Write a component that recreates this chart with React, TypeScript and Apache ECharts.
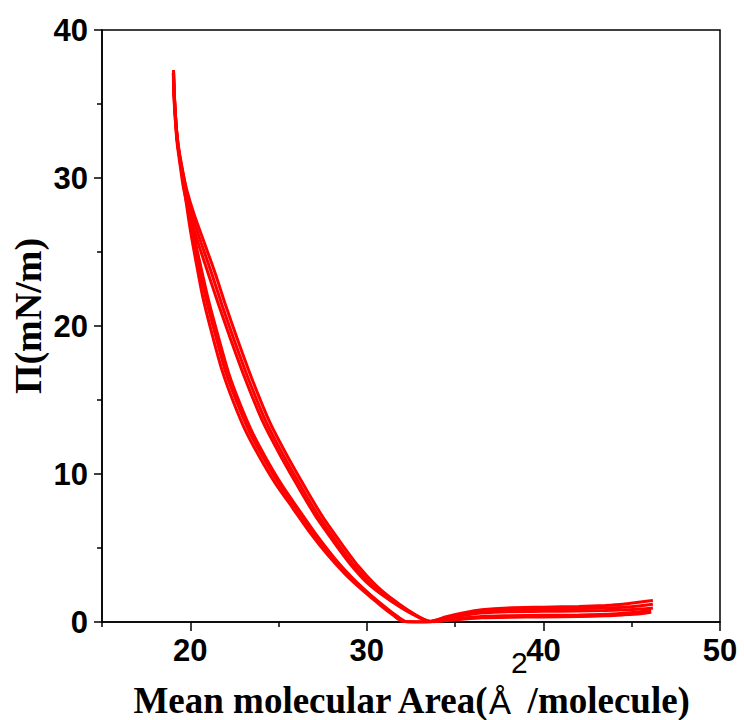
import React, { useEffect, useRef } from "react";
import * as echarts from "echarts";

// Axis ticks
const xMajorTicks = [20, 30, 40, 50];
const xMinorTicks = [15, 25, 35, 45];
const yMin = 0;
const yMax = 40;
const yInterval = 10;

// Cycle 1 compression (area Å²/molecule, Π mN/m)
const compression1: [number, number][] = [
  [46.2, 1.45], [45.5, 1.35], [44.5, 1.2], [43.5, 1.12], [42, 1.05], [40, 1.0], [38, 0.95],
  [36.5, 0.82], [35.5, 0.62], [34.5, 0.35], [33.6, 0.05],
  [32.6, 0.6], [31.5, 1.5], [30.5, 2.5], [29.5, 3.8], [28.5, 5.4], [27.5, 7.1], [26.5, 9.1],
  [25.5, 11.2], [24.5, 13.5], [23.5, 16.4], [22.7, 19.0], [22.0, 21.4], [21.4, 23.6],
  [20.8, 25.6], [20.2, 27.6], [19.8, 29.2], [19.5, 30.8], [19.3, 32.2], [19.2, 33.5],
  [19.1, 35.5], [19.05, 37.3],
];
// Cycle 1 expansion
const expansion1: [number, number][] = [
  [19.05, 37.3], [19.1, 35.5], [19.2, 33.5], [19.3, 32.2], [19.5, 30.6], [19.75, 28.5],
  [20.0, 26.5], [20.3, 24.5], [20.7, 22.0], [21.2, 19.6], [21.8, 17.0], [22.4, 15.0],
  [23.1, 13.0], [23.9, 11.2], [24.8, 9.4], [25.8, 7.7], [26.8, 6.0], [27.8, 4.5],
  [28.8, 3.2], [29.8, 2.1], [30.8, 1.1], [31.5, 0.45], [32.0, 0.05], [33.0, 0.0],
  [33.6, 0.02], [34.5, 0.15], [35.5, 0.28], [36.5, 0.38], [38, 0.42], [40, 0.45],
  [42, 0.48], [43.5, 0.52], [44.5, 0.6], [45.5, 0.7], [46.1, 0.82],
];
// Cycle 2 compression
const compression2: [number, number][] = [
  [46.2, 1.2], [45.5, 1.1], [44.5, 1.0], [43.5, 0.95], [42, 0.9], [40, 0.86], [38, 0.82],
  [36.5, 0.72], [35.5, 0.52], [34.5, 0.3], [33.6, 0.04],
  [32.5, 0.62], [31.35, 1.5], [30.3, 2.5], [29.3, 3.8], [28.3, 5.4], [27.3, 7.1], [26.3, 9.1],
  [25.3, 11.2], [24.3, 13.5], [23.3, 16.4], [22.5, 19.0], [21.8, 21.4], [21.2, 23.6],
  [20.62, 25.6], [20.07, 27.6], [19.7, 29.3], [19.46, 30.9], [19.28, 32.3], [19.18, 33.6],
  [19.08, 35.6], [19.05, 37.2],
];
// Cycle 2 expansion
const expansion2: [number, number][] = [
  [19.05, 37.2], [19.1, 35.5], [19.2, 33.5], [19.33, 32.0], [19.54, 30.5], [19.83, 28.4],
  [20.1, 26.4], [20.44, 24.3], [20.88, 21.9], [21.4, 19.5], [22.0, 16.9], [22.62, 14.9],
  [23.33, 12.9], [24.14, 11.1], [25.04, 9.3], [26.04, 7.6], [27.02, 5.9], [28.0, 4.4],
  [29.0, 3.1], [30.0, 2.0], [30.98, 1.0], [31.66, 0.4], [32.15, 0.03], [33.0, 0.0],
  [33.6, 0.02], [34.5, 0.12], [35.5, 0.24], [36.5, 0.32], [38, 0.36], [40, 0.38],
  [42, 0.42], [43.5, 0.46], [44.5, 0.52], [45.5, 0.62], [46.1, 0.72],
];
// Cycle 3 compression
const compression3: [number, number][] = [
  [46.2, 0.95], [45.5, 0.88], [44.5, 0.82], [43.5, 0.78], [42, 0.75], [40, 0.72], [38, 0.7],
  [36.5, 0.6], [35.5, 0.45], [34.5, 0.25], [33.6, 0.03],
  [32.4, 0.65], [31.2, 1.55], [30.1, 2.55], [29.1, 3.85], [28.1, 5.45], [27.1, 7.15],
  [26.1, 9.15], [25.1, 11.25], [24.1, 13.55], [23.1, 16.45], [22.3, 19.05], [21.6, 21.45],
  [21.0, 23.6], [20.45, 25.6], [19.95, 27.6], [19.62, 29.3], [19.42, 30.9], [19.26, 32.3],
  [19.17, 33.6], [19.07, 35.6], [19.04, 37.1],
];
// Cycle 3 expansion
const expansion3: [number, number][] = [
  [19.04, 37.1], [19.1, 35.4], [19.21, 33.4], [19.36, 31.9], [19.58, 30.4], [19.9, 28.3],
  [20.18, 26.3], [20.56, 24.2], [21.02, 21.8], [21.56, 19.4], [22.18, 16.8], [22.8, 14.8],
  [23.52, 12.8], [24.32, 11.0], [25.22, 9.2], [26.2, 7.5], [27.2, 5.8], [28.18, 4.3],
  [29.16, 3.0], [30.14, 1.9], [31.1, 0.95], [31.76, 0.35], [32.25, 0.02], [33.0, 0.0],
  [33.6, 0.01], [34.5, 0.1], [35.5, 0.2], [36.5, 0.28], [38, 0.32], [40, 0.34],
  [42, 0.37], [43.5, 0.42], [44.5, 0.48], [45.5, 0.56], [46.1, 0.66],
];

const curves = [compression1, expansion1, compression2, expansion2, compression3, expansion3];

const GRID = { left: 102, top: 30, right: 24, bottom: 98 };

export default function App() {
  const ref = useRef<HTMLDivElement>(null);
  useEffect(() => {
    if (!ref.current) return;
    const chart = echarts.init(ref.current, null, { renderer: "svg" });
    const tickFont = {
      fontFamily: "'Liberation Sans', Arial, sans-serif",
      fontWeight: "bold" as const,
      fontSize: 31,
      color: "#000",
    };
    const serifBold = {
      fontFamily: "'Liberation Serif', 'Times New Roman', serif",
      fontWeight: "bold" as const,
      fontSize: 37,
      color: "#000",
      lineHeight: 72,
      verticalAlign: "bottom" as const,
    };
    chart.setOption({
      animation: false,
      backgroundColor: "#fff",
      grid: [
        { ...GRID, outerBoundsMode: "none", containLabel: false, show: true, borderColor: "#000", borderWidth: 1.5, backgroundColor: "transparent" },
        { ...GRID, outerBoundsMode: "none", containLabel: false, show: false },
      ],
      xAxis: [
        {
          type: "value",
          gridIndex: 0,
          min: 15,
          max: 50,
          interval: 5,
          axisLine: { show: true, onZero: false, lineStyle: { color: "#000", width: 1.5 } },
          axisTick: { show: true, customValues: xMajorTicks, length: 9, lineStyle: { color: "#000", width: 1.5 } },
          axisLabel: { show: true, customValues: xMajorTicks, margin: 13, ...tickFont },
          splitLine: { show: false },
          name: "{a|Mean molecular Area(}{b|Å}{c|2}{a|/molecule)}",
          nameLocation: "middle",
          nameGap: 25,
          nameMoveOverlap: false,
          nameTextStyle: {
            rich: {
              a: { ...serifBold },
              b: { fontFamily: "'Liberation Sans', Arial, sans-serif", fontWeight: "normal", fontSize: 33, color: "#000", lineHeight: 72, verticalAlign: "bottom" },
              c: { fontFamily: "'Liberation Sans', Arial, sans-serif", fontWeight: "normal", fontSize: 30, color: "#000", verticalAlign: "top" },
            },
          },
        },
        {
          type: "value",
          gridIndex: 1,
          min: 15,
          max: 50,
          interval: 5,
          axisLine: { show: false, onZero: false },
          axisTick: { show: true, customValues: xMinorTicks, length: 5, lineStyle: { color: "#000", width: 1.5 } },
          axisLabel: { show: false },
          splitLine: { show: false },
        },
      ],
      yAxis: [
        {
          type: "value",
          gridIndex: 0,
          min: yMin,
          max: yMax,
          interval: yInterval,
          axisLine: { show: true, onZero: false, lineStyle: { color: "#000", width: 1.5 } },
          axisTick: { show: true, length: 8, lineStyle: { color: "#000", width: 1.5 } },
          minorTick: { show: true, splitNumber: 2, length: 5, lineStyle: { color: "#000", width: 1.5 } },
          axisLabel: { show: true, margin: 14, ...tickFont },
          splitLine: { show: false },
          name: "Π(mN/m)",
          nameLocation: "middle",
          nameGap: 55,
          nameMoveOverlap: false,
          nameTextStyle: {
            fontFamily: "'Liberation Serif', 'Times New Roman', serif",
            fontWeight: "bold",
            fontSize: 38,
            color: "#000",
            padding: [0, 0, 0, 20],
          },
        },
        {
          type: "value",
          gridIndex: 1,
          min: yMin,
          max: yMax,
          show: false,
        },
      ],
      series: curves.map((d) => ({
        type: "line",
        xAxisIndex: 0,
        yAxisIndex: 0,
        data: d,
        showSymbol: false,
        smooth: 0.25,
        silent: true,
        lineStyle: { color: "#ff0000", width: 3 },
      })),
    });
    return () => chart.dispose();
  }, []);
  return (
    <div
      ref={ref}
      style={{ position: "fixed", left: 0, top: 0, width: 744, height: 720 }}
    />
  );
}
